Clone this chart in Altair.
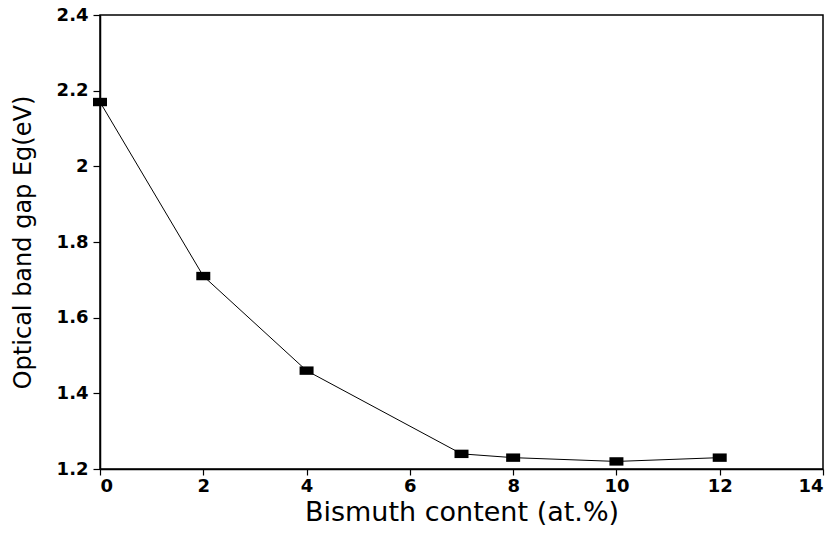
import altair as alt
import pandas as pd

bismuth = [0, 2, 4, 7, 8, 10, 12]
band_gap = [2.17, 1.71, 1.46, 1.24, 1.23, 1.22, 1.23]

df = pd.DataFrame({"x": bismuth, "y": band_gap})

xscale = alt.Scale(domain=[0, 14], nice=False, zero=False)
yscale = alt.Scale(domain=[1.2, 2.4], nice=False, zero=False)

FONT = "DejaVu Sans"

xaxis = alt.Axis(title="Bismuth content (at.%)", values=[0, 2, 4, 6, 8, 10, 12, 14],
                 format="d", grid=False, tickSize=6, tickColor="black", domainColor="black",
                 labelFont=FONT, labelFontWeight="bold", labelFontSize=18,
                 labelColor="black", labelPadding=2,
                 titleFont=FONT, titleFontWeight="normal", titleFontSize=27,
                 titleColor="black", titlePadding=4)
yaxis = alt.Axis(title="Optical band gap Eg(eV)", values=[1.2, 1.4, 1.6, 1.8, 2.0, 2.2, 2.4],
                 format="~g", grid=False, tickSize=7, tickColor="black", domainColor="black",
                 labelFont=FONT, labelFontWeight="bold", labelFontSize=18,
                 labelColor="black", labelPadding=5,
                 titleFont=FONT, titleFontWeight="normal", titleFontSize=24,
                 titleColor="black", titlePadding=21)

base = alt.Chart(df).encode(
    x=alt.X("x:Q", scale=xscale, axis=xaxis),
    y=alt.Y("y:Q", scale=yscale, axis=yaxis),
)

line = base.mark_line(color="black", strokeWidth=1)
pts = base.mark_point(shape="M-1,-0.6H1V0.6H-1Z", filled=True, color="black",
                      opacity=1, size=196)

chart = (line + pts).properties(
    width=723, height=454,
    autosize=alt.AutoSizeParams(type="none"),
    padding={"left": 100, "top": 15, "right": 15, "bottom": 66},
    background="white",
).configure_view(stroke="black", strokeWidth=1.5).configure_axis(domainWidth=1.5, tickWidth=1.2)

chart.save("out.html", embed_options={"renderer": "svg", "actions": False})
